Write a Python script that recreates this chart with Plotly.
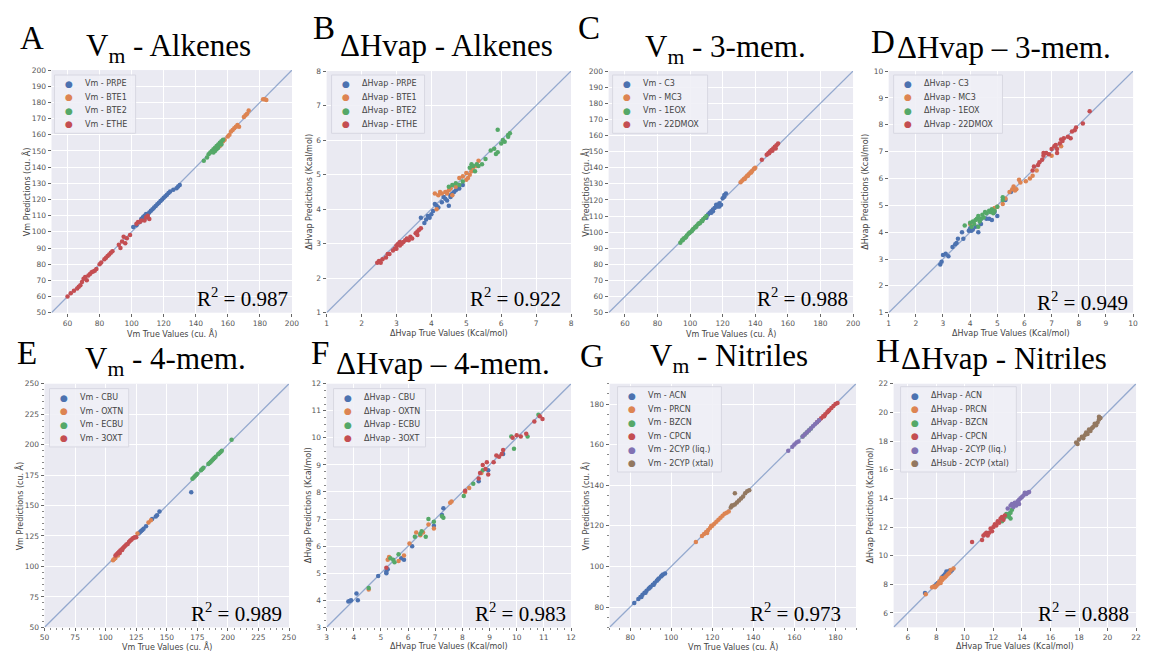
import plotly.graph_objects as go

W, H = 1149, 656

# ---------------------------------------------------------------------------
# Data: (true value, predicted value) pairs for every series
# ---------------------------------------------------------------------------
# A: Vm - Alkenes (cu. A)
a_prpe = [(101, 103), (103, 104), (105, 106), (106, 108), (107, 109), (108, 110), (109, 111),
          (110, 111), (111, 112), (112, 113), (113, 114), (114, 115), (115, 116), (116, 117),
          (117, 118), (118, 119), (119, 120), (120, 121), (121, 122), (122, 123), (123, 124),
          (124, 125), (126, 126), (128, 127), (129, 128), (130, 129), (108, 108), (110, 109)]
a_bte1 = [(155, 153), (156, 155), (157, 156), (158, 157), (160, 159), (161, 160), (162, 162),
          (163, 163), (164, 164), (165, 165), (166, 166), (167, 165), (170, 171), (171, 172),
          (172, 173), (173, 175), (182, 182), (183, 182), (184, 181.5)]
a_bte2 = [(145, 144), (147, 146), (148, 148), (149, 149), (150, 150), (151, 151), (152, 152),
          (153, 153), (154, 154), (155, 155), (156, 156), (157, 157), (151, 149), (152, 150),
          (153, 151), (154, 152), (156, 154)]
a_ethe = [(60, 60), (62, 62), (64, 63.5), (66, 65), (67, 66), (68, 67), (69, 69), (70, 71),
          (71, 72), (72, 70), (73, 73), (74, 74), (75, 75), (76, 75.5), (77, 76), (78, 77),
          (80, 80), (81, 81), (83, 83), (84, 84), (85, 85), (86, 86), (87, 87), (88, 88),
          (92, 92), (93, 90), (94, 94), (95, 97), (96, 93), (97, 96), (99, 98), (103, 105),
          (104, 106), (105, 106), (106, 107), (108, 107), (109, 109), (110, 110), (111, 108)]

# B: dHvap - Alkenes (Kcal/mol)
b_prpe = [(3.7, 3.75), (3.8, 3.6), (3.85, 3.7), (3.9, 3.8), (3.95, 3.75), (4.0, 3.85), (4.05, 3.95),
          (4.1, 4.15), (4.15, 4.1), (4.2, 4.05), (4.3, 4.2), (4.35, 4.35), (4.4, 4.3), (4.45, 4.25),
          (4.5, 4.1), (4.55, 4.4), (4.6, 4.45), (4.65, 4.5), (4.7, 4.55), (4.75, 4.6), (4.8, 4.6),
          (4.9, 4.7), (4.55, 4.35)]
b_bte1 = [(4.1, 4.45), (4.2, 4.4), (4.25, 4.5), (4.3, 4.45), (4.4, 4.5), (4.45, 4.45), (4.5, 4.55),
          (4.55, 4.6), (4.6, 4.4), (4.7, 4.65), (4.8, 4.9), (4.9, 4.95), (5.0, 5.05), (5.05, 4.9),
          (5.1, 5.0), (5.15, 5.1), (5.2, 5.2), (5.3, 5.25), (5.35, 5.4), (5.0, 4.85), (4.15, 4.0)]
b_bte2 = [(4.5, 4.65), (4.6, 4.7), (4.7, 4.75), (4.8, 4.7), (4.9, 4.8), (5.1, 5.2), (5.15, 5.3),
          (5.2, 5.25), (5.25, 5.1), (5.3, 5.3), (5.35, 5.25), (5.45, 5.3), (5.55, 5.45), (5.7, 5.7),
          (5.8, 5.75), (5.85, 5.6), (5.9, 5.65), (6.0, 5.9), (6.1, 5.95), (6.2, 6.1), (6.25, 6.2),
          (5.9, 6.3), (6.05, 6.0), (6.2, 6.15)]
b_ethe = [(2.45, 2.45), (2.5, 2.5), (2.55, 2.45), (2.6, 2.55), (2.7, 2.6), (2.75, 2.7), (2.8, 2.7),
          (2.9, 2.8), (2.95, 2.85), (3.0, 2.95), (3.0, 2.85), (3.05, 3.0), (3.1, 2.95), (3.1, 3.05),
          (3.15, 3.0), (3.2, 3.05), (3.25, 3.1), (3.3, 3.15), (3.35, 3.1), (3.4, 3.2), (3.45, 3.15),
          (3.55, 3.3), (3.6, 3.35), (3.65, 3.4), (3.7, 3.45), (3.6, 3.25)]

# C: Vm - 3-membered rings (cu. A)
c_c3 = [(110, 109), (111, 111), (112, 112), (113, 113), (114, 114), (115, 115), (116, 116),
        (116, 117), (117, 117), (118, 118), (118, 116), (119, 117), (120, 121), (121, 122),
        (122, 124), (121, 123), (114, 113), (113, 112), (117, 116)]
c_mc3 = [(131, 131), (132, 132), (133, 133), (134, 134), (135, 135), (136, 136), (137, 137),
         (138, 138), (139, 139), (140, 140), (133.5, 133), (135.5, 135), (137.5, 137), (139.5, 139.5)]
c_1eox = [(94, 93.5), (95, 95), (96, 96), (97, 96.5), (98, 98), (99, 99), (100, 100), (101, 100.5),
          (102, 102), (103, 103), (104, 104), (105, 105), (106, 105.5), (107, 107), (108, 108),
          (109, 109), (110, 110), (95.5, 95), (97.5, 97), (99.5, 99.5), (101.5, 101.5), (103.5, 103),
          (105.5, 105.5), (107.5, 107)]
c_22dmox = [(144, 145), (147, 148), (148, 149), (149, 150), (150, 151), (151, 152), (152, 153),
            (153, 154), (154, 155), (148.5, 149), (150.5, 150.5), (152.5, 152)]

# D: dHvap - 3-membered rings (Kcal/mol)
d_c3 = [(2.9, 2.8), (2.95, 2.9), (3.0, 3.15), (3.1, 3.2), (3.2, 3.1), (3.35, 3.45), (3.45, 3.55),
        (3.5, 3.6), (3.55, 3.75), (3.7, 4.0), (3.75, 3.75), (3.95, 4.05), (4.0, 4.15), (4.05, 4.05),
        (4.1, 4.1), (4.2, 4.2), (4.4, 4.3), (4.6, 4.5), (4.7, 4.5), (4.8, 4.45), (4.9, 4.75),
        (5.0, 4.6), (5.3, 5.2), (5.5, 5.5), (4.3, 4.0)]
d_mc3 = [(4.0, 4.3), (4.9, 4.9), (5.0, 4.95), (5.2, 5.05), (5.3, 5.25), (5.45, 5.5), (5.55, 5.6),
         (5.6, 5.7), (5.65, 5.55), (5.7, 5.6), (5.8, 5.95), (5.85, 5.85), (6.05, 5.9), (6.2, 6.0),
         (6.3, 6.1), (6.45, 6.3), (7.35, 7.2), (7.0, 6.85)]
d_1eox = [(3.8, 4.25), (4.0, 4.35), (4.05, 4.2), (4.1, 4.4), (4.15, 4.3), (4.2, 4.45), (4.25, 4.5),
          (4.3, 4.6), (4.35, 4.4), (4.4, 4.5), (4.45, 4.65), (4.5, 4.55), (4.55, 4.75), (4.6, 4.7),
          (4.7, 4.8), (4.75, 4.75), (4.8, 4.85), (4.85, 4.7), (4.9, 4.8), (5.0, 4.95), (5.2, 5.2),
          (5.2, 5.3), (4.3, 4.2)]
d_22dmox = [(6.3, 6.3), (6.35, 6.45), (6.5, 6.5), (6.55, 6.6), (6.65, 6.7), (6.7, 6.85), (6.7, 6.95),
            (6.8, 6.95), (6.9, 6.9), (7.0, 7.1), (7.1, 7.2), (7.15, 7.25), (7.2, 7.1), (7.3, 7.3),
            (7.35, 7.45), (7.2, 6.95), (7.6, 7.55), (7.7, 7.5), (7.75, 7.75), (7.85, 7.8), (7.9, 7.9),
            (8.15, 8.05), (8.4, 8.5), (7.4, 7.4), (7.45, 7.5)]

# E: Vm - 4-membered rings (cu. A)
e_cbu = [(127, 127), (128, 128), (129, 129), (130, 130), (131, 131), (133, 133), (138, 139),
         (141, 141), (142, 142), (144, 145), (170, 161)]
e_oxtn = [(106, 105), (107, 106), (108, 107), (110, 109), (135, 136), (137, 138), (126, 127)]
e_ecbu = [(171, 172), (172, 173), (173, 174), (174, 175), (175, 176), (178, 179), (179, 180),
          (180, 181), (184, 184), (185, 185), (186, 186), (187, 187), (188, 188), (189, 189),
          (190, 190), (192, 192), (193, 193), (194, 194), (195, 195), (203, 204)]
e_3oxt = [(108, 109), (109, 110), (110, 111), (111, 112), (112, 113), (113, 114), (114, 115),
          (115, 116), (116, 117), (117, 118), (118, 118.5), (119, 120), (120, 121), (121, 122),
          (122, 123), (123, 123.5), (124, 124), (125, 124), (111.5, 111), (113.5, 113.5)]

# F: dHvap - 4-membered rings (Kcal/mol)
f_cbu = [(3.8, 3.95), (3.85, 3.97), (3.9, 4.0), (4.1, 4.25), (4.15, 4.0), (4.9, 4.9), (5.2, 5.05),
         (5.2, 5.0), (5.25, 5.15), (5.75, 5.55), (5.85, 5.5), (6.15, 6.0), (6.95, 6.75), (7.25, 7.15),
         (7.3, 7.4), (8.6, 8.4), (8.95, 8.8), (9.5, 9.4)]
f_oxtn = [(4.55, 4.4), (5.25, 5.5), (5.3, 5.6), (5.65, 5.45), (5.85, 5.65), (6.05, 6.1), (6.3, 6.5),
          (6.45, 6.4), (6.55, 6.5), (6.75, 6.8), (6.95, 6.65), (7.55, 7.6), (7.6, 7.65), (8.1, 8.0),
          (8.25, 8.15), (8.7, 8.7)]
f_ecbu = [(4.55, 4.45), (5.35, 5.55), (5.45, 5.5), (5.5, 5.4), (5.65, 5.7), (6.25, 6.35), (6.45, 6.45),
          (6.5, 6.55), (6.65, 6.35), (6.75, 7.0), (6.95, 6.9), (7.25, 7.1), (7.3, 7.05), (8.05, 7.85),
          (8.4, 8.3), (8.75, 8.8), (9.8, 10.05), (9.9, 9.6), (10.4, 10.05), (10.8, 10.85)]
f_3oxt = [(5.2, 5.2), (8.1, 8.05), (8.6, 8.5), (8.65, 8.7), (8.75, 9.0), (8.85, 8.85), (8.9, 9.1),
          (8.95, 8.65), (9.15, 9.1), (9.25, 9.35), (9.35, 9.3), (9.45, 9.4), (9.5, 9.55), (9.85, 10.0),
          (10.0, 10.1), (10.15, 10.05), (10.35, 10.15), (10.65, 10.6), (10.95, 10.7), (10.85, 10.8)]

# G: Vm - Nitriles (cu. A)
g_acn = [(82, 82), (84, 84), (85, 85), (86, 86), (87, 87), (88, 88), (89, 89), (90, 90), (91, 91),
         (92, 92), (93, 93), (94, 94), (95, 95), (96, 96), (97, 96.5), (85.5, 85), (87.5, 87),
         (89.5, 89.5), (91.5, 91), (93.5, 93.5), (95.5, 95.5)]
g_prcn = [(112, 112), (115, 115), (116, 116), (117, 117), (118, 118), (119, 119), (120, 120),
          (121, 121), (122, 122), (123, 123), (124, 124), (125, 125), (126, 126), (127, 126.5),
          (128, 127), (117.5, 116.5), (119.5, 120)]
g_bzcn = [(164, 164), (165, 165), (166, 166), (167, 167), (168, 168)]
g_cpcn = [(171, 171), (172, 172), (173, 173), (174, 174), (175, 175), (176, 176), (177, 177),
          (178, 178), (179, 179), (180, 180), (181, 180.5), (174.5, 174), (176.5, 176.5)]
g_2cyp_liq = [(157, 157), (159, 159), (160, 160), (161, 161), (162, 161.5), (164, 164), (165, 165),
              (166, 166), (167, 167), (168, 168), (169, 169), (170, 170), (171, 171), (172, 172)]
g_2cyp_xtal = [(129, 129), (130, 130), (131, 130.5), (132, 131.5), (133, 132.5), (134, 133.5),
               (135, 134.5), (136, 136), (137, 137), (138, 137.5), (131, 136), (129.5, 130)]

# H: dHvap - Nitriles (Kcal/mol)
h_acn = [(7.2, 7.4), (7.9, 7.9), (8.0, 8.0), (8.1, 8.1), (8.3, 8.3), (8.4, 8.5), (8.5, 8.6),
         (8.6, 8.7), (8.7, 8.9), (8.9, 8.95), (9.0, 8.9), (9.1, 9.0), (8.8, 8.8)]
h_prcn = [(7.25, 7.3), (7.7, 7.8), (7.8, 7.85), (7.9, 7.8), (8.0, 7.9), (8.1, 8.0), (8.2, 8.2),
          (8.3, 8.1), (8.4, 8.3), (8.5, 8.4), (8.6, 8.5), (8.7, 8.6), (8.8, 8.7), (8.9, 8.8),
          (9.0, 9.0), (9.2, 9.1), (8.35, 8.45)]
h_bzcn = [(12.6, 12.4), (12.7, 12.6), (12.8, 12.7), (12.9, 12.9), (13.0, 12.8), (13.1, 12.9),
          (13.2, 13.0), (13.3, 13.2), (13.4, 13.5), (13.5, 13.6), (13.2, 12.6), (13.1, 12.7)]
h_cpcn = [(10.5, 10.95), (11.2, 11.1), (11.3, 11.4), (11.4, 11.5), (11.5, 11.6), (11.7, 11.6),
          (11.8, 11.9), (11.9, 11.7), (12.0, 12.0), (12.1, 12.2), (12.2, 12.1), (12.3, 12.4),
          (12.4, 12.3), (12.5, 12.6), (12.6, 12.7), (12.7, 12.5), (12.8, 12.8), (11.6, 11.4)]
h_2cyp_liq = [(13.0, 13.3), (13.2, 13.5), (13.3, 13.6), (13.4, 13.4), (13.5, 13.7), (13.6, 13.5),
              (13.7, 13.8), (13.8, 13.9), (13.9, 14.0), (14.0, 14.1), (14.1, 14.2), (14.2, 14.4),
              (14.3, 14.3), (14.4, 14.4), (14.5, 14.45), (13.8, 13.6)]
h_2cyp_xtal = [(17.8, 17.9), (17.9, 17.8), (18.0, 18.1), (18.2, 18.3), (18.3, 18.2), (18.4, 18.4),
               (18.5, 18.6), (18.6, 18.5), (18.7, 18.8), (18.8, 18.7), (18.9, 18.9), (19.0, 19.0),
               (19.1, 19.2), (19.2, 19.1), (19.3, 19.3), (19.4, 19.5), (19.5, 19.6), (19.4, 19.7)]

# axis ranges (same on x and y for each parity plot)
range_a = [50, 200]
range_b = [1, 8]
range_c = [50, 200]
range_d = [1, 10]
range_e = [50, 250]
range_f = [3, 12]
range_g = [70, 190]
range_h = [5, 22]

r2_values = ["0.987", "0.922", "0.988", "0.949", "0.989", "0.983", "0.973", "0.888"]

PALETTE = ["#4C72B0", "#DD8452", "#55A868", "#C44E52", "#8172B3", "#937860"]

VM_X = "Vm True Values (cu. Å)"
VM_Y = "Vm Predictions (cu. Å)"
HV_X = "ΔHvap True Values (Kcal/mol)"
HV_Y = "ΔHvap Predictions (Kcal/mol)"

# panel layout: plot box in pixels (left, top, right, bottom);
# lpos = legend box top-left, lw = legend box width
panels = [
    dict(letter="A", title="V<sub>m</sub> - Alkenes", rng=range_a, xd=20, yd=10,
         box=(47, 67, 290, 313), xl=VM_X, yl=VM_Y, ylx=22,
         series=[("Vm - PRPE", a_prpe), ("Vm - BTE1", a_bte1), ("Vm - BTE2", a_bte2), ("Vm - ETHE", a_ethe)],
         lpos=(50, 72), lw=82, let=(13, 48), tit=(165, 62), r2=(288, 308)),
    dict(letter="B", title="ΔHvap - Alkenes", rng=range_b, xd=1, yd=1,
         box=(325, 68, 572, 313), xl=HV_X, yl=HV_Y, ylx=308,
         series=[("ΔHvap - PRPE", b_prpe), ("ΔHvap - BTE1", b_bte1), ("ΔHvap - BTE2", b_bte2),
                 ("ΔHvap - ETHE", b_ethe)],
         lpos=(330, 72), lw=94, let=(309, 38), tit=(446, 53), r2=(564, 308)),
    dict(letter="C", title="V<sub>m</sub> - 3-mem.", rng=range_c, xd=20, yd=10,
         box=(610, 68, 857, 313), xl=VM_X, yl=VM_Y, ylx=587,
         series=[("Vm - C3", c_c3), ("Vm - MC3", c_mc3), ("Vm - 1EOX", c_1eox), ("Vm - 22DMOX", c_22dmox)],
         lpos=(614, 72), lw=96, let=(577, 38), tit=(728, 63), r2=(854, 308)),
    dict(letter="D", title="ΔHvap – 3-mem.", rng=range_d, xd=1, yd=1,
         box=(893, 68, 1140, 313), xl=HV_X, yl=HV_Y, ylx=870,
         series=[("ΔHvap - C3", d_c3), ("ΔHvap - MC3", d_mc3), ("ΔHvap - 1EOX", d_1eox),
                 ("ΔHvap - 22DMOX", d_22dmox)],
         lpos=(898, 72), lw=110, let=(873, 52), tit=(1010, 55), r2=(1137, 312)),
    dict(letter="E", title="V<sub>m</sub> - 4-mem.", rng=range_e, xd=25, yd=25,
         box=(40, 385, 287, 632), xl=VM_X, yl=VM_Y, ylx=15,
         series=[("Vm - CBU", e_cbu), ("Vm - OXTN", e_oxtn), ("Vm - ECBU", e_ecbu), ("Vm - 3OXT", e_3oxt)],
         lpos=(45, 390), lw=80, let=(10, 367), tit=(162, 379), r2=(282, 628), minor=5),
    dict(letter="F", title="ΔHvap – 4-mem.", rng=range_f, xd=1, yd=1,
         box=(325, 385, 572, 632), xl=HV_X, yl=HV_Y, ylx=307,
         series=[("ΔHvap - CBU", f_cbu), ("ΔHvap - OXTN", f_oxtn), ("ΔHvap - ECBU", f_ecbu),
                 ("ΔHvap - 3OXT", f_3oxt)],
         lpos=(332, 390), lw=93, let=(307, 367), tit=(443, 375), r2=(569, 628), minor=0.25),
    dict(letter="G", title="V<sub>m</sub> - Nitriles", rng=range_g, xd=20, yd=20,
         box=(611, 385, 860, 632), xl=VM_X, yl=VM_Y, ylx=587,
         series=[("Vm - ACN", g_acn), ("Vm - PRCN", g_prcn), ("Vm - BZCN", g_bzcn), ("Vm - CPCN", g_cpcn),
                 ("Vm - 2CYP (liq.)", g_2cyp_liq), ("Vm - 2CYP (xtal)", g_2cyp_xtal)],
         lpos=(619, 388), lw=105, let=(579, 370), tit=(732, 376), r2=(847, 628), minor=5),
    dict(letter="H", title="ΔHvap - Nitriles", rng=range_h, xd=2, yd=2,
         box=(898, 385, 1143, 632), xl=HV_X, yl=HV_Y, ylx=875,
         series=[("ΔHvap - ACN", h_acn), ("ΔHvap - PRCN", h_prcn), ("ΔHvap - BZCN", h_bzcn),
                 ("ΔHvap - CPCN", h_cpcn), ("ΔHvap - 2CYP (liq.)", h_2cyp_liq),
                 ("ΔHsub - 2CYP (xtal)", h_2cyp_xtal)],
         lpos=(905, 388), lw=117, let=(878, 365), tit=(1010, 370), r2=(1138, 628)),
]


def px(x):
    return x / W


def py(y):
    return 1 - y / H


SERIF = "Liberation Serif, Times New Roman, serif"
SANS = "DejaVu Sans, sans-serif"
TICK_FONT = dict(family=SANS, size=7.5, color="#555555")
LEG_FONT = dict(family=SANS, size=8, color="#444444")
ROW_STEP = 13.7

fig = go.Figure()
layout = dict(
    width=W, height=H, margin=dict(l=0, r=0, t=0, b=0),
    paper_bgcolor="white", plot_bgcolor="#EAEAF2", showlegend=False,
)
annotations = []
shapes = []

for i, p in enumerate(panels):
    n = "" if i == 0 else str(i + 1)
    xa, ya = "x" + n, "y" + n
    lo, hi = p["rng"]
    l, t, r, b = p["box"]

    # identity line
    fig.add_trace(go.Scatter(
        x=p["rng"], y=p["rng"], xaxis=xa, yaxis=ya, mode="lines",
        line=dict(color="rgba(76,114,176,0.55)", width=1.3), showlegend=False, hoverinfo="skip"))

    for k, (name, pts) in enumerate(p["series"]):
        fig.add_trace(go.Scatter(
            x=[v[0] for v in pts], y=[v[1] for v in pts], xaxis=xa, yaxis=ya,
            mode="markers", name=name,
            marker=dict(color=PALETTE[k], size=4.5, line=dict(width=0))))

    axis_common = dict(
        range=[lo, hi], showgrid=True, gridcolor="white", gridwidth=1, zeroline=False,
        ticks="outside", ticklen=3, tickwidth=1, tickcolor="#666666", tickfont=TICK_FONT,
        showline=False,
    )
    xaxis = dict(axis_common, domain=[px(l), px(r)], anchor=ya, dtick=p["xd"], tick0=0)
    yaxis = dict(axis_common, domain=[py(b), py(t)], anchor=xa, dtick=p["yd"], tick0=0)
    if p.get("minor"):
        mn = dict(ticks="outside", ticklen=2, tickcolor="#888888", dtick=p["minor"], showgrid=False)
        xaxis["minor"] = mn
        yaxis["minor"] = mn
    layout["xaxis" + n] = xaxis
    layout["yaxis" + n] = yaxis

    # legend box with one row per series
    lx, ly = p["lpos"]
    nser = len(p["series"])
    shapes.append(dict(
        type="rect", xref="paper", yref="paper", layer="above",
        x0=px(lx), x1=px(lx + p["lw"]), y0=py(ly + 18 + (nser - 1) * ROW_STEP), y1=py(ly),
        fillcolor="rgba(240,240,246,0.9)", line=dict(color="#D8D8E2", width=1)))
    for k, (name, _) in enumerate(p["series"]):
        yc = ly + 9 + k * ROW_STEP
        annotations.append(dict(
            text="●", x=px(lx + 15), y=py(yc), xref="paper", yref="paper",
            xanchor="center", yanchor="middle", showarrow=False,
            font=dict(family=SANS, size=9, color=PALETTE[k])))
        annotations.append(dict(
            text=name, x=px(lx + 29), y=py(yc), xref="paper", yref="paper",
            xanchor="left", yanchor="middle", showarrow=False, font=LEG_FONT))

    # panel letter
    annotations.append(dict(
        text=p["letter"], x=px(p["let"][0]), y=py(p["let"][1] + 7), xref="paper", yref="paper",
        xanchor="left", yanchor="bottom", showarrow=False,
        font=dict(family=SERIF, size=33, color="black")))
    # panel title (subscripted titles sit a little lower)
    off = 5 if "<sub>" in p["title"] else 9
    annotations.append(dict(
        text=p["title"], x=px(p["tit"][0]), y=py(p["tit"][1] + off), xref="paper", yref="paper",
        xanchor="center", yanchor="bottom", showarrow=False,
        font=dict(family=SERIF, size=31, color="black")))
    # R^2 label
    annotations.append(dict(
        text="R<sup>2</sup> = " + r2_values[i], x=px(p["r2"][0]), y=py(p["r2"][1] + 5),
        xref="paper", yref="paper", xanchor="right", yanchor="bottom", showarrow=False,
        font=dict(family=SERIF, size=21, color="black")))
    # axis titles
    annotations.append(dict(
        text=p["xl"], x=px((l + r) / 2), y=py(334 if b < 400 else 651),
        xref="paper", yref="paper", xanchor="center", yanchor="middle", showarrow=False,
        font=dict(family=SANS, size=8, color="#444444")))
    annotations.append(dict(
        text=p["yl"], x=px(p["ylx"]), y=py((t + b) / 2), xref="paper", yref="paper",
        xanchor="center", yanchor="middle", textangle=-90, showarrow=False,
        font=dict(family=SANS, size=8, color="#444444")))

layout["annotations"] = annotations
layout["shapes"] = shapes
fig.update_layout(**layout)
fig.write_html("out.html")
